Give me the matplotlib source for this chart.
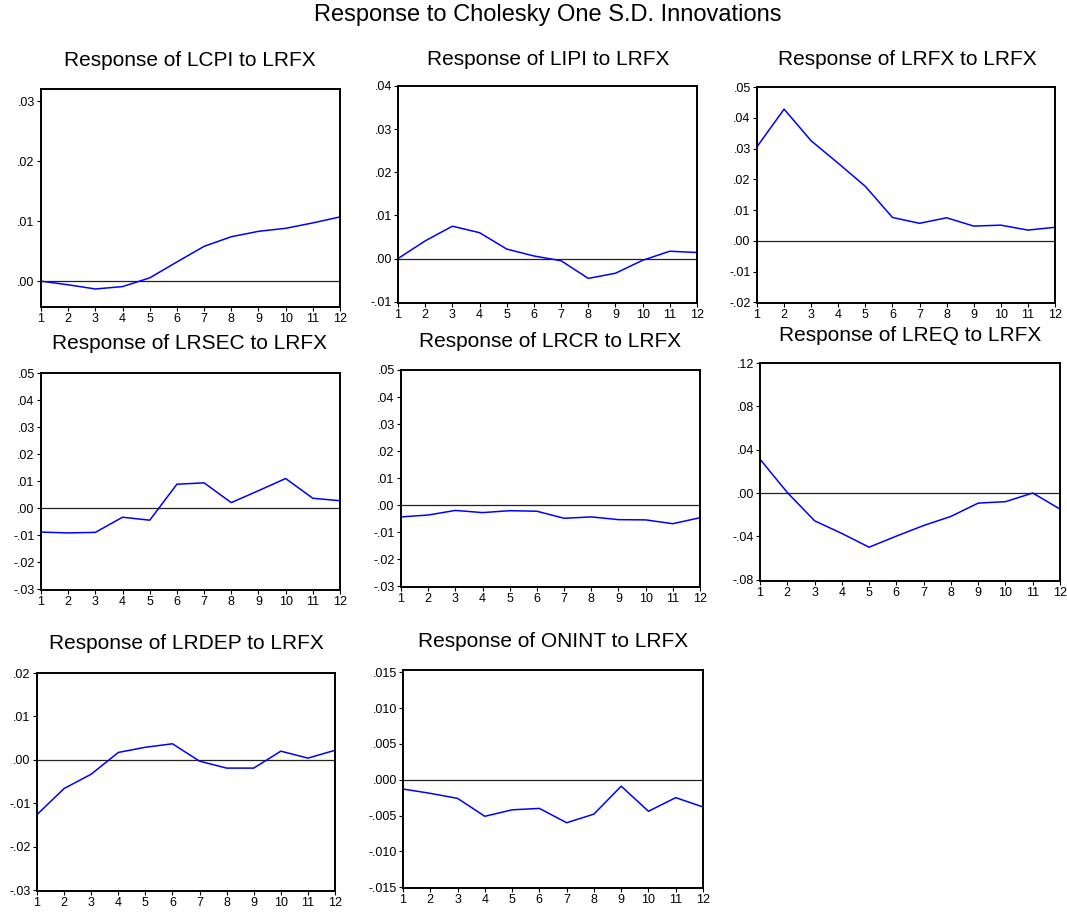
import matplotlib
matplotlib.use("Agg")
import matplotlib.pyplot as plt
from matplotlib.ticker import FuncFormatter

plt.rcParams['font.family'] = ['Liberation Sans', 'DejaVu Sans']

W, H = 1067, 914
periods = list(range(1, 13))

lcpi = [0.0, -0.0006, -0.0013, -0.0009, 0.00055, 0.0032, 0.0058, 0.0074, 0.0083, 0.0088, 0.0097, 0.0107]
lipi = [0.0, 0.0041, 0.0075, 0.0060, 0.0022, 0.0006, -0.0005, -0.0046, -0.0034, -0.0004, 0.0017, 0.0014]
lrfx = [0.0306, 0.0428, 0.0325, 0.0252, 0.0177, 0.0076, 0.0057, 0.0075, 0.0048, 0.0051, 0.0035, 0.0044]
lrsec = [-0.0088, -0.0091, -0.0089, -0.0033, -0.0044, 0.0089, 0.0094, 0.0021, 0.0065, 0.0110, 0.0037, 0.0028]
lrcr = [-0.0043, -0.0036, -0.0019, -0.0027, -0.0020, -0.0022, -0.0048, -0.0043, -0.0053, -0.0054, -0.0068, -0.0046]
lreq = [0.0312, 0.0005, -0.0256, -0.0373, -0.0500, -0.0398, -0.0300, -0.0216, -0.0093, -0.0080, 0.0000, -0.0148]
lrdep = [-0.0126, -0.0066, -0.0033, 0.0017, 0.0029, 0.0037, -0.0003, -0.0019, -0.0019, 0.0020, 0.0004, 0.0022]
onint = [-0.0013, -0.0019, -0.0026, -0.0051, -0.0042, -0.0040, -0.0060, -0.0048, -0.0009, -0.0044, -0.0025, -0.0038]

# (title, values, ylim, yticks, decimals, axes box in pixels: left, top, right, bottom, title center x, title baseline y)
panels = [
    ("Response of LCPI to LRFX", lcpi, (-0.0043, 0.032), [0.0, 0.01, 0.02, 0.03], 2,
     (41, 89, 340, 307), 190, 66),
    ("Response of LIPI to LRFX", lipi, (-0.0103, 0.04), [-0.01, 0.0, 0.01, 0.02, 0.03, 0.04], 2,
     (398, 86, 697, 303), 548, 65),
    ("Response of LRFX to LRFX", lrfx, (-0.0202, 0.05), [-0.02, -0.01, 0.0, 0.01, 0.02, 0.03, 0.04, 0.05], 2,
     (757, 87, 1055, 303), 907, 65),
    ("Response of LRSEC to LRFX", lrsec, (-0.0302, 0.05), [-0.03, -0.02, -0.01, 0.0, 0.01, 0.02, 0.03, 0.04, 0.05], 2,
     (41, 373, 340, 590), 190, 349),
    ("Response of LRCR to LRFX", lrcr, (-0.0302, 0.05), [-0.03, -0.02, -0.01, 0.0, 0.01, 0.02, 0.03, 0.04, 0.05], 2,
     (401, 370, 700, 587), 550, 347),
    ("Response of LREQ to LRFX", lreq, (-0.0812, 0.12), [-0.08, -0.04, 0.0, 0.04, 0.08, 0.12], 2,
     (760, 363, 1060, 581), 910, 341),
    ("Response of LRDEP to LRFX", lrdep, (-0.0302, 0.02), [-0.03, -0.02, -0.01, 0.0, 0.01, 0.02], 2,
     (37, 673, 335, 891), 186, 649),
    ("Response of ONINT to LRFX", onint, (-0.0151, 0.0153), [-0.015, -0.01, -0.005, 0.0, 0.005, 0.01, 0.015], 3,
     (403, 670, 703, 888), 553, 647),
]


def dotfmt(dec):
    def f(v, pos):
        s = f"{v:.{dec}f}"
        if s.startswith("-0"):
            return "-" + s[2:]
        if s.startswith("0"):
            return s[1:]
        return s
    return FuncFormatter(f)


fig = plt.figure(figsize=(W / 100, H / 100), dpi=100)
fig.text(548 / W, 1 - 21 / H, "Response to Cholesky One S.D. Innovations",
         ha="center", va="baseline", fontsize=17)

for title, vals, ylim, yticks, dec, (l, t, r, b), tx, ty in panels:
    ax = fig.add_axes([l / W, 1 - b / H, (r - l) / W, (b - t) / H])
    ax.plot(periods, vals, color="#0000FF", lw=1.1)
    ax.axhline(0, color="#222222", lw=0.9, zorder=1)
    ax.set_xlim(1, 12)
    ax.set_ylim(*ylim)
    ax.set_xticks(periods)
    ax.set_yticks(yticks)
    ax.yaxis.set_major_formatter(dotfmt(dec))
    ax.tick_params(direction="out", length=3, width=0.8, labelsize=9, pad=1.5)
    for s in ax.spines.values():
        s.set_linewidth(1.4)
    fig.text(tx / W, 1 - ty / H, title, ha="center", va="baseline", fontsize=15)

fig.savefig("out.png", dpi=100)
